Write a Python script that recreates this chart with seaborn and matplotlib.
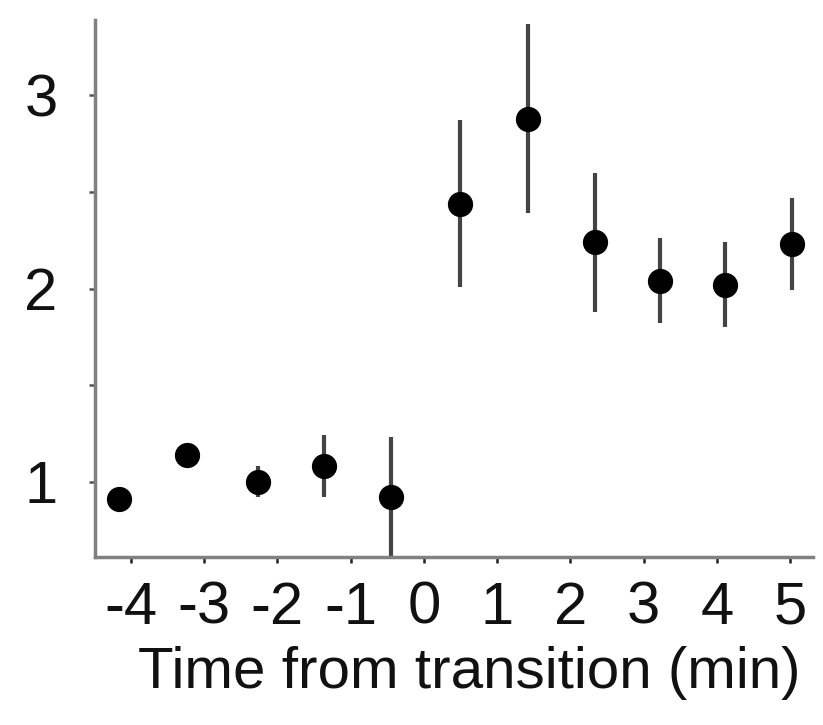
import matplotlib
matplotlib.use("Agg")
import matplotlib.pyplot as plt
import seaborn as sns
import pandas as pd
from matplotlib.ticker import FixedLocator

# Data
time_min = [-4.16, -3.23, -2.26, -1.36, -0.45, 0.49, 1.42, 2.33, 3.22, 4.11, 5.02]
values = [0.91, 1.14, 1.00, 1.08, 0.92, 2.44, 2.88, 2.24, 2.04, 2.02, 2.23]
errors = [0.03, 0.03, 0.08, 0.16, 0.31, 0.43, 0.49, 0.36, 0.22, 0.22, 0.24]
xticks = [-4, -3, -2, -1, 0, 1, 2, 3, 4, 5]
yticks = [1, 2, 3]
xlabel = "Time from transition (min)"

df = pd.DataFrame({"t": time_min, "v": values, "e": errors})

sns.set_style("ticks")
plt.rcParams["font.family"] = ["Liberation Sans", "DejaVu Sans"]
plt.rcParams["axes.unicode_minus"] = False

fig = plt.figure(figsize=(8.23, 7.25), dpi=100)
ax = fig.add_axes([95 / 823, 1 - 557 / 725, (813 - 95) / 823, (557 - 20) / 725])

ax.errorbar(df["t"], df["v"], yerr=df["e"], fmt="none", ecolor="#444444",
            elinewidth=3.0, capsize=0, zorder=2)
sns.scatterplot(data=df, x="t", y="v", ax=ax, color="black", s=330,
                edgecolor="black", linewidth=0, zorder=3, legend=False)

ax.set_xlim(-4.49, 5.31)
ax.set_ylim(0.61, 3.39)
ax.xaxis.set_major_locator(FixedLocator(xticks))
ax.yaxis.set_major_locator(FixedLocator(yticks))
ax.yaxis.set_minor_locator(FixedLocator([1.5, 2.5]))
ax.set_xticklabels([str(x) for x in xticks])
ax.set_yticklabels([str(y) for y in yticks])

for side in ["top", "right"]:
    ax.spines[side].set_visible(False)
for side in ["left", "bottom"]:
    ax.spines[side].set_color("#808080")
    ax.spines[side].set_linewidth(2.5)

ax.tick_params(axis="x", which="major", length=4, width=1.8, color="#222222",
               labelsize=43, pad=13, labelcolor="#111111")
ax.tick_params(axis="y", which="major", length=4, width=1.8, color="#555555",
               labelsize=43, pad=23, labelcolor="#111111")
ax.tick_params(axis="y", which="minor", length=4, width=1.8, color="#555555")

ax.set_xlabel(xlabel, fontsize=42, color="#111111")
ax.set_ylabel("")
ax.xaxis.set_label_coords(0.521, -0.165)
ax.xaxis.label.set_va("top")

fig.savefig("out.png", dpi=100)
